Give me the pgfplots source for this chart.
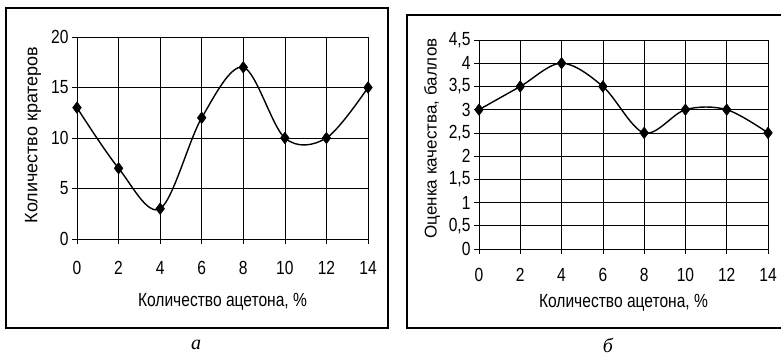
\documentclass[border=0pt]{standalone}
\usepackage{fontspec}
\setmainfont{Liberation Sans}
\newfontfamily\arialc{Liberation Sans}[FakeStretch=0.82]
\newfontfamily\timesf{Liberation Serif}
\usepackage{pgfplots}
\pgfplotsset{compat=1.18}
\pgfplotsset{
  myax/.style={
    scale only axis, anchor=south west,
    xmin=0, xmax=14, xtick={0,2,...,14},
    grid=major, major grid style={black, line width=0.7pt},
    axis line style={black, line width=0.7pt},
    tick style={black, line width=0.7pt},
    tick align=outside, major tick length=5pt,
    xtick pos=left, ytick pos=left,
    /pgf/number format/assume math mode=true,
    /pgf/number format/use comma,
    ticklabel style={font=\arialc\fontsize{19}{21}\selectfont},
    xlabel style={font=\arialc\fontsize{19}{21}\selectfont},
    xticklabel style={anchor=center},
  },
  myplot/.style={black, line width=1.4pt, smooth, tension=0.55,
    mark=diamond*, mark size=5.8pt, mark options={solid, fill=black, line width=0.5pt}},
}
\begin{document}
\begin{tikzpicture}[x=1pt,y=1pt]
\path[use as bounding box] (0,0) rectangle (781,355);
% frames
\draw[line width=1.3pt] (6,27) rectangle (388,347);
\draw[line width=1.3pt] (781,340) -- (407,340) -- (407,27) -- (781,27);
% panel a
\begin{axis}[myax, at={(77pt,116pt)}, width=291pt, height=202pt,
  ymin=0, ymax=20, ytick={0,5,...,20},
  xticklabel style={yshift=-24pt},
  xlabel={Количество ацетона, \%},
  ylabel={Количество кратеров},
  xlabel style={at={(axis description cs:0.5,0)}, anchor=center, yshift=-63pt},
  ylabel style={font=\fontsize{18}{21}\selectfont, at={(axis description cs:0,0.5)}, anchor=center, yshift=44pt, xshift=3pt},
]
\addplot[myplot] coordinates {(0,13) (2,7) (4,3) (6,12) (8,17) (10,10) (12,10) (14,15)};
\end{axis}
% panel b
\begin{axis}[myax, at={(479pt,106pt)}, width=289pt, height=209pt,
  ymin=0, ymax=4.5, ytick={0,0.5,...,4.5},
  yticklabel style={/pgf/number format/fixed},
  xticklabel style={yshift=-21pt},
  xlabel={Количество ацетона, \%},
  ylabel={Оценка качества, баллов},
  xlabel style={at={(axis description cs:0.5,0)}, anchor=center, yshift=-54pt},
  ylabel style={font=\fontsize{17}{20}\selectfont, at={(axis description cs:0,0.5)}, anchor=center, yshift=47pt, xshift=6pt},
]
\addplot[myplot] coordinates {(0,3) (2,3.5) (4,4) (6,3.5) (8,2.5) (10,3) (12,3) (14,2.5)};
\end{axis}
\node[font=\timesf\itshape\fontsize{20}{24}\selectfont] at (196,10) {а};
\node[font=\timesf\itshape\fontsize{20}{24}\selectfont] at (608,10) {б};
\end{tikzpicture}
\end{document}
